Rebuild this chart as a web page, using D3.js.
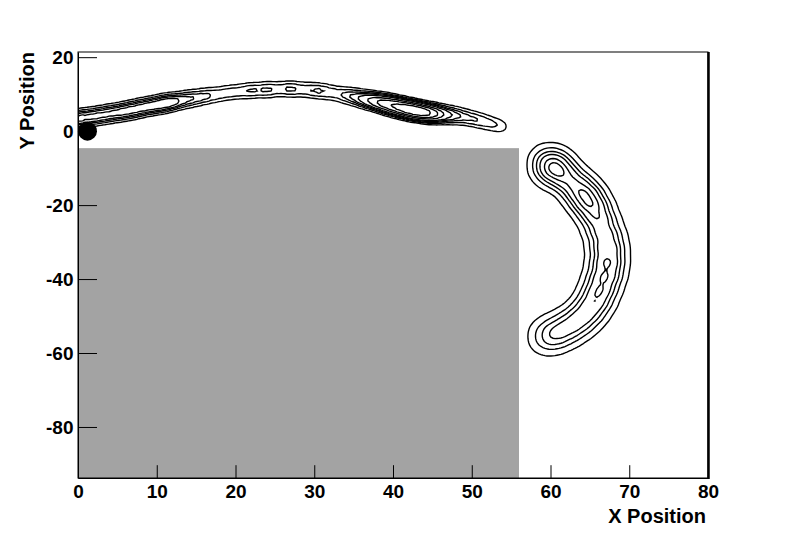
<!DOCTYPE html>
<html lang="en">

<head>
    <meta charset="UTF-8" />
    <style>
        body { margin: 0; background: #fff; }
        text { font-family: "Liberation Sans", Arial, sans-serif; font-weight: bold; fill: #000; }
    </style>
</head>

<body>
    <svg width="788" height="533"></svg>
    <script src="https://d3js.org/d3.v7.min.js"></script>
    <script>
        // upper arc ridge (x, y, relative weight)
        var upperX = [-2, -1, 0, 1, 2, 3, 4, 5, 6, 7, 8, 9, 10, 11, 12, 13, 14, 15, 16, 17, 18, 19, 20, 21, 22, 23, 24, 25, 26, 27,
            28, 29, 30, 31, 32, 33, 34, 35, 36, 37, 38, 39, 40, 41, 42, 43, 44, 45, 46, 47, 48, 49, 50, 51, 52, 53, 54];
        var upperY = [3.0, 3.2, 3.4, 3.7, 4.0, 4.3, 4.7, 5.0, 5.4, 5.8, 6.3, 6.7, 7.1, 7.5, 7.9, 8.3, 8.7, 9.0, 9.4, 9.7, 10.0, 10.4,
            10.6, 10.8, 11.0, 11.1, 11.2, 11.3, 11.4, 11.4, 11.3, 11.2, 11.0, 10.8, 10.5, 10.1, 9.7, 9.3, 8.8, 8.4, 7.9, 7.4, 6.9,
            6.4, 5.9, 5.5, 5.1, 4.8, 4.6, 4.4, 4.2, 3.9, 3.4, 2.9, 2.3, 1.7, 1.2];
        var upperW = [0.3, 0.3, 0.3, 0.3, 0.3, 0.3, 0.3, 0.3, 0.33, 0.33, 0.33, 0.33, 0.34, 0.38, 0.33, 0.25, 0.22, 0.19, 0.17,
            0.15, 0.13, 0.13, 0.13, 0.13, 0.17, 0.13, 0.18, 0.13, 0.13, 0.18, 0.13, 0.13, 0.16, 0.16, 0.13, 0.13, 0.18, 0.22, 0.3,
            0.42, 0.55, 0.7, 0.8, 0.9, 1.0, 1.0, 0.9, 0.7, 0.45, 0.3, 0.22, 0.18, 0.16, 0.15, 0.13, 0.11, 0.08];

        // right arc ridge
        var rightX = [59.6, 60.6, 62.1, 63.5, 64.6, 65.7, 66.4, 67.2, 67.3, 67.2, 66.5, 65.9, 65.0, 63.7, 62.2, 60.6, 59.2];
        var rightY = [-9.0, -9.9, -12.4, -15.4, -18.1, -21.4, -25.4, -29.5, -33.5, -37.6, -41.6, -45.1, -48.4, -51.1, -53.2, -54.9, -55.6];
        var rightW = [0.75, 1.0, 0.7, 0.75, 1.0, 0.8, 0.7, 0.7, 0.75, 0.8, 0.75, 0.7, 0.65, 0.65, 0.62, 0.55, 0.45];

        var upperLevels = [0.05, 0.1, 0.15, 0.2, 0.27, 0.4, 0.55, 0.75];
        var rightLevels = [0.1, 0.25, 0.4, 0.55, 0.75, 0.9];

        // shaded block and marker
        var blockX = [0, 56];
        var blockY = [-93.8, -4.6];
        var marker = { x: 1.2, y: 0 };

        var xTicks = [0, 10, 20, 30, 40, 50, 60, 70, 80];
        var yTicks = [-80, -60, -40, -20, 0, 20];

        var svg = d3.select("svg");
        var fL = 78, fR = 708, fT = 52, fB = 478;

        var x = d3.scaleLinear().domain([0, 80]).range([fL, fR]);
        var y = d3.scaleLinear().domain([-93.8, 21.4]).range([fB, fT]);

        svg.append("clipPath").attr("id", "frame")
            .append("rect")
            .attr("x", fL).attr("y", fT)
            .attr("width", fR - fL).attr("height", fB - fT);

        svg.append("rect")
            .attr("x", x(blockX[0]))
            .attr("y", y(blockY[1]))
            .attr("width", x(blockX[1]) - x(blockX[0]))
            .attr("height", y(blockY[0]) - y(blockY[1]))
            .attr("fill", "#a3a3a3");

        function drawContours(xs, ys, ws, bw, levels) {
            var pts = xs.map(function (d, i) { return { x: d, y: ys[i], w: ws[i] }; });
            var density = d3.contourDensity()
                .x(function (d) { return x(d.x); })
                .y(function (d) { return y(d.y); })
                .weight(function (d) { return d.w; })
                .size([788, 533])
                .cellSize(2)
                .bandwidth(bw);
            var shapes;
            if (density.contours) {
                var c = density.contours(pts);
                shapes = levels.map(function (f) { return c(c.max * f); });
            } else {
                var all = density.thresholds(80)(pts);
                var mx = d3.max(all, function (d) { return d.value; });
                shapes = density.thresholds(levels.map(function (f) { return mx * f; }))(pts);
            }
            svg.append("g")
                .attr("clip-path", "url(#frame)")
                .selectAll("path")
                .data(shapes)
                .enter().append("path")
                .attr("d", d3.geoPath())
                .attr("fill", "none")
                .attr("stroke", "#000")
                .attr("stroke-width", 1.4);
        }

        drawContours(upperX, upperY, upperW, 4.5, upperLevels);
        drawContours(rightX, rightY, rightW, 10.5, rightLevels);

        svg.append("circle")
            .attr("cx", x(marker.x))
            .attr("cy", y(marker.y))
            .attr("r", 9.5)
            .attr("fill", "#000");

        // axes (ticks drawn inward, ROOT style)
        var fmt = function (d) { return String(d); };
        var xAxis = svg.append("g").attr("transform", "translate(0," + fB + ")");
        xAxis.call(d3.axisBottom(x).tickValues(d3.range(0, 81, 2)).tickSize(-6.4).tickSizeOuter(0).tickFormat(""));
        xAxis.call(d3.axisBottom(x).tickValues(xTicks).tickSize(-12.8).tickSizeOuter(0).tickPadding(7).tickFormat(fmt));

        var yAxis = svg.append("g").attr("transform", "translate(" + fL + ",0)");
        yAxis.call(d3.axisLeft(y).tickValues(d3.range(-90, 21, 5)).tickSize(-9.5).tickSizeOuter(0).tickFormat(""));
        yAxis.call(d3.axisLeft(y).tickValues(yTicks).tickSize(-19).tickSizeOuter(0).tickPadding(4.5).tickFormat(fmt));

        svg.selectAll(".tick line").attr("stroke", "#000");
        svg.selectAll(".domain").attr("stroke", "#000");
        svg.selectAll(".tick text")
            .style("font-family", "'Liberation Sans', Arial, sans-serif")
            .style("font-weight", "bold")
            .style("font-size", "19px")
            .attr("fill", "#000");

        // frame
        svg.append("rect")
            .attr("x", fL).attr("y", fT)
            .attr("width", fR - fL).attr("height", fB - fT)
            .attr("fill", "none").attr("stroke", "#000").attr("stroke-width", 1);
        svg.append("line")
            .attr("x1", fR + 0.5).attr("x2", fR + 0.5)
            .attr("y1", fT).attr("y2", fB + 1)
            .attr("stroke", "#000").attr("stroke-width", 2.5);

        svg.append("text")
            .attr("x", 706).attr("y", 523)
            .attr("text-anchor", "end")
            .style("font-size", "20px")
            .text("X Position");

        svg.append("text")
            .attr("transform", "translate(34,52) rotate(-90)")
            .attr("text-anchor", "end")
            .style("font-size", "20px")
            .text("Y Position");
    </script>
</body>

</html>
